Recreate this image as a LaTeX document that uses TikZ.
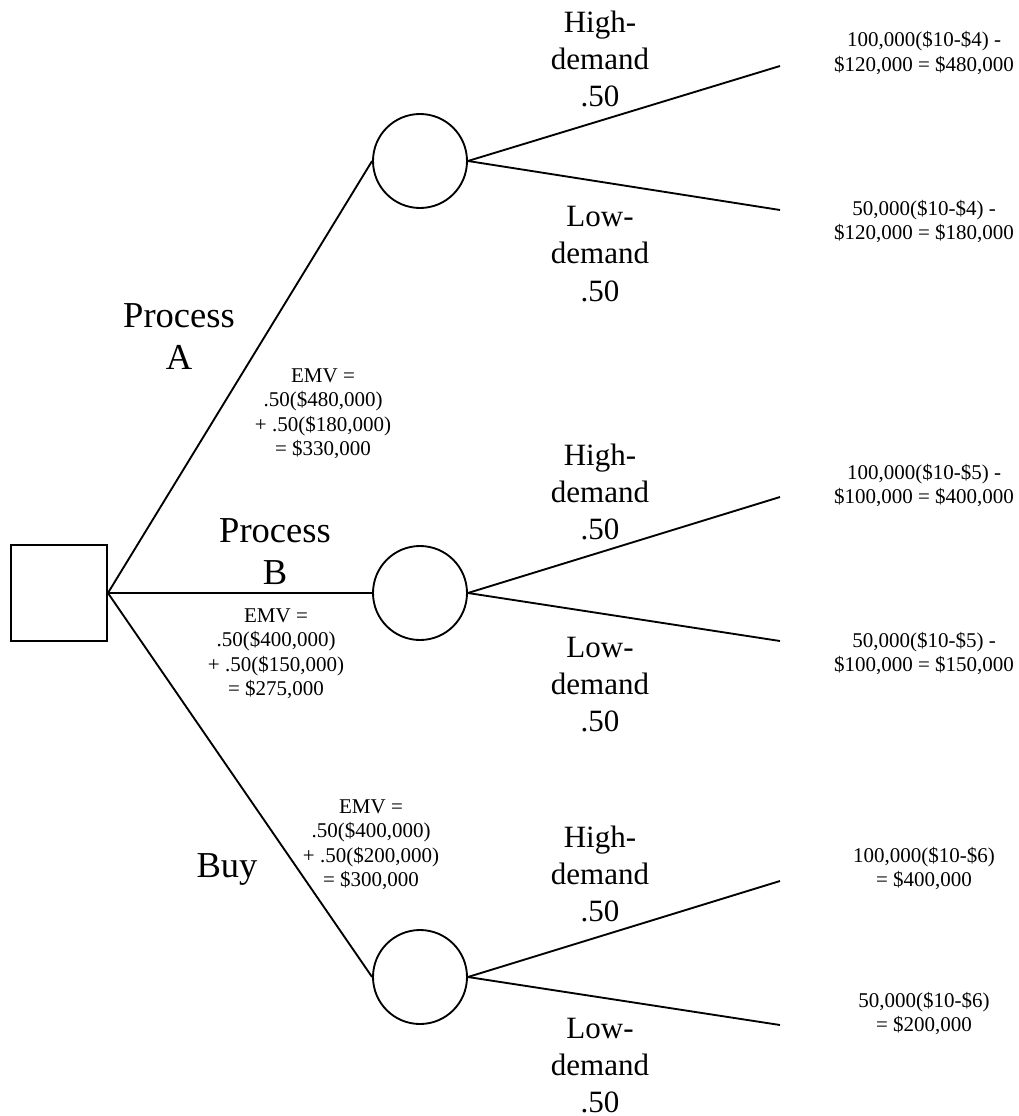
\documentclass[tikz,border=0pt]{standalone}
\usepackage{fontspec}
\setmainfont{Liberation Serif}
% multi-line label whose baseline is that of its first line
\newcommand\stacked[1]{\begin{tabular}[t]{@{}c@{}}#1\end{tabular}}
\begin{document}
\begin{tikzpicture}[x=0.75pt,y=-0.75pt,
  branch/.style={line width=1.4pt},
  decision/.style={rectangle, draw, line width=1.4pt, minimum size=72pt, inner sep=0pt},
  chance/.style={circle, draw, line width=1.4pt, minimum size=70.5pt, inner sep=0pt},
  altlabel/.style={font=\fontsize{27.4}{31.5}\selectfont, anchor=base, inner sep=0pt},
  problabel/.style={font=\fontsize{23.25}{27.75}\selectfont, anchor=base, inner sep=0pt},
  smalltext/.style={font=\fontsize{15.75}{18.4}\selectfont, anchor=base, inner sep=0pt}]
\useasboundingbox (0,0) rectangle (1019,1116);

% decision and chance nodes
\node[decision] (dec) at (59,593) {};
\node[chance] (cA) at (420,161) {};
\node[chance] (cB) at (420,593) {};
\node[chance] (cC) at (420,977) {};

% outcome end points
\coordinate (aHi) at (780,66);
\coordinate (aLo) at (780,210);
\coordinate (bHi) at (780,497);
\coordinate (bLo) at (780,641);
\coordinate (cHi) at (780,881);
\coordinate (cLo) at (780,1025);

% alternatives
\draw[branch] (dec.east) -- (cA.west);
\draw[branch] (dec.east) -- (cB.west);
\draw[branch] (dec.east) -- (cC.west);

% states of nature
\draw[branch] (cA.east) -- (aHi);
\draw[branch] (cA.east) -- (aLo);
\draw[branch] (cB.east) -- (bHi);
\draw[branch] (cB.east) -- (bLo);
\draw[branch] (cC.east) -- (cHi);
\draw[branch] (cC.east) -- (cLo);

% alternative labels
\node[altlabel] (lA) at (179,327) {\stacked{Process\\A}};
\node[altlabel] (lB) at (275,542) {\stacked{Process\\B}};
\node[altlabel] (lC) at (227,877) {Buy};

% expected monetary values
\node[smalltext] (emvA) at (323,382) {\stacked{EMV =\\.50(\$480,000)\\+ .50(\$180,000)\\= \$330,000}};
\node[smalltext] (emvB) at (276,622) {\stacked{EMV =\\.50(\$400,000)\\+ .50(\$150,000)\\= \$275,000}};
\node[smalltext] (emvC) at (371,813) {\stacked{EMV =\\.50(\$400,000)\\+ .50(\$200,000)\\= \$300,000}};

% probabilities
\node[problabel] (pAH) at (600,33) {\stacked{High-\\demand\\.50}};
\node[problabel] (pAL) at (600,227) {\stacked{Low-\\demand\\.50}};
\node[problabel] (pBH) at (600,465) {\stacked{High-\\demand\\.50}};
\node[problabel] (pBL) at (600,657) {\stacked{Low-\\demand\\.50}};
\node[problabel] (pCH) at (600,847) {\stacked{High-\\demand\\.50}};
\node[problabel] (pCL) at (600,1038) {\stacked{Low-\\demand\\.50}};

% payoffs
\node[smalltext] (vAH) at (924,47) {\stacked{100,000(\$10-\$4) -\\\$120,000 = \$480,000}};
\node[smalltext] (vAL) at (924,215) {\stacked{50,000(\$10-\$4) -\\\$120,000 = \$180,000}};
\node[smalltext] (vBH) at (924,479) {\stacked{100,000(\$10-\$5) -\\\$100,000 = \$400,000}};
\node[smalltext] (vBL) at (924,647) {\stacked{50,000(\$10-\$5) -\\\$100,000 = \$150,000}};
\node[smalltext] (vCH) at (924,862) {\stacked{100,000(\$10-\$6)\\= \$400,000}};
\node[smalltext] (vCL) at (924,1007) {\stacked{50,000(\$10-\$6)\\= \$200,000}};
\end{tikzpicture}
\end{document}
